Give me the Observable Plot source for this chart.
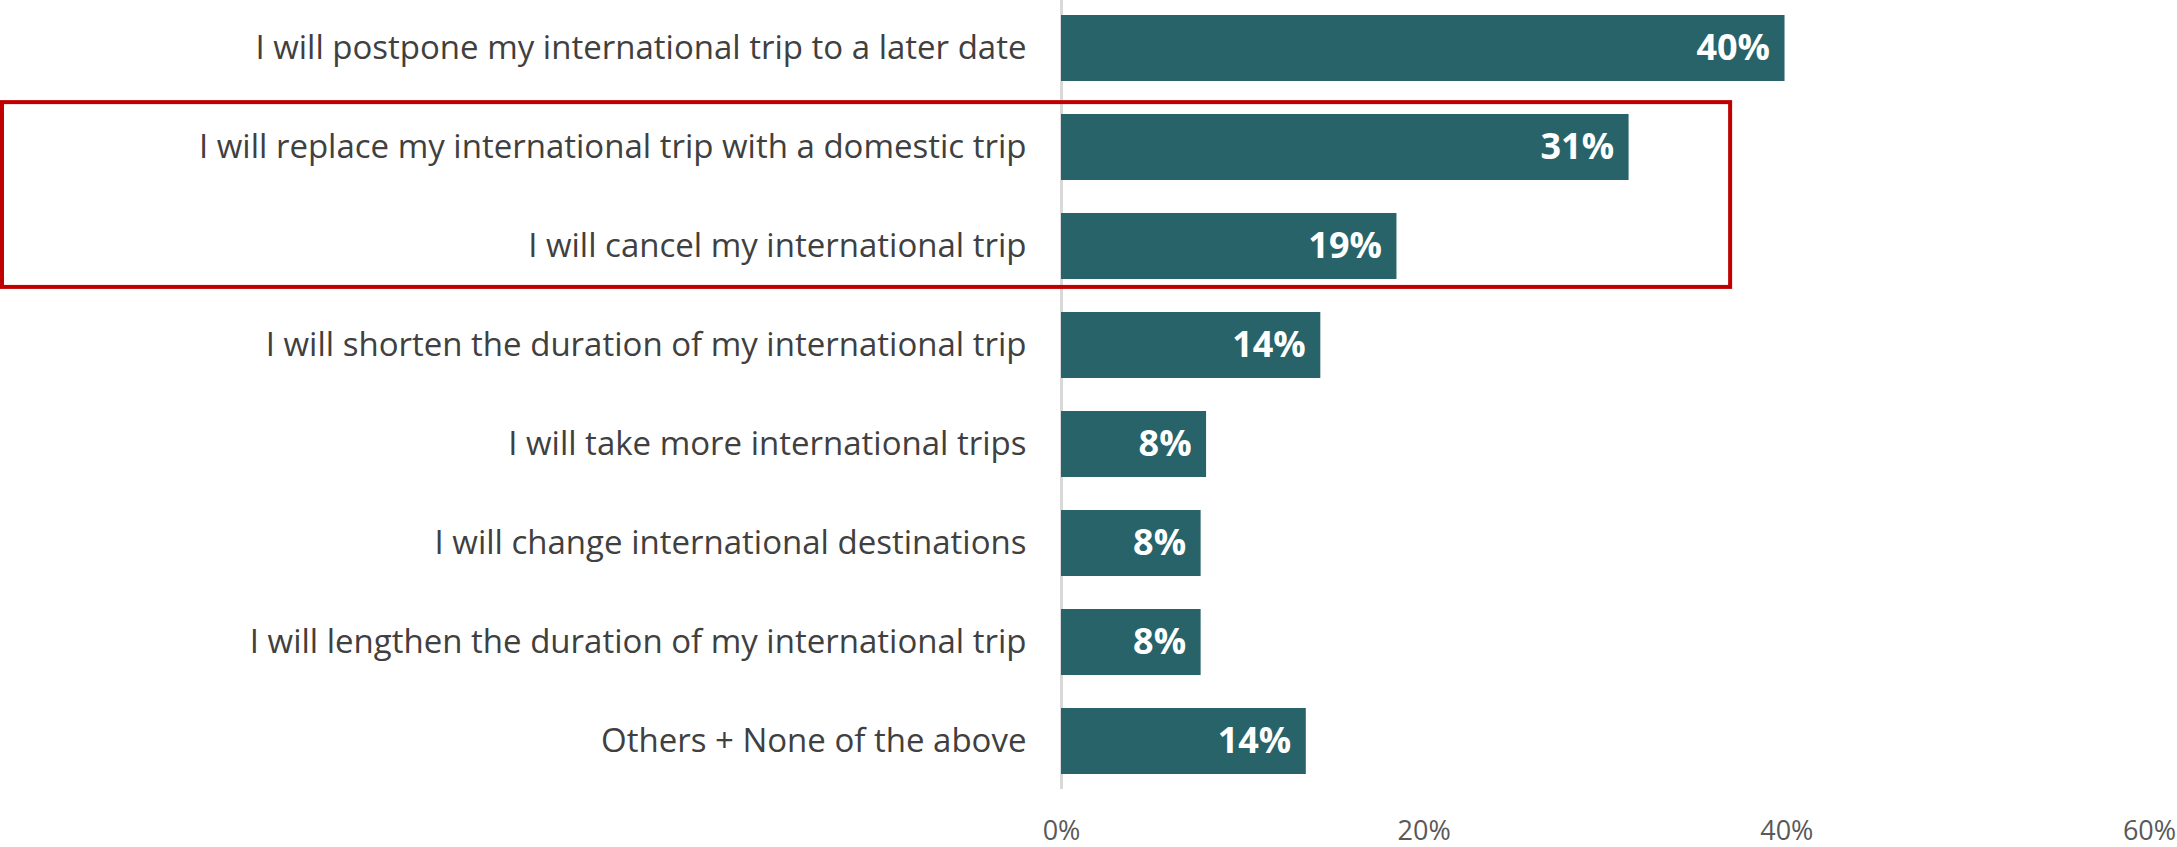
<!DOCTYPE html>
<html>
<head>
<meta charset="utf-8">
<script src="https://cdn.jsdelivr.net/npm/d3@7"></script>
<script src="https://cdn.jsdelivr.net/npm/@observablehq/plot@0.6"></script>
<style>
  html, body { margin: 0; padding: 0; background: #fff; }
  #chart svg { display: block; }
  #chart g[aria-label="y-axis tick label"] text { fill: #404040; }
  #chart g[aria-label="x-axis tick label"] text { fill: #595959; }
</style>
</head>
<body>
<div id="chart"></div>
<script>
const categories = [
  "I will postpone my international trip to a later date",
  "I will replace my international trip with a domestic trip",
  "I will cancel my international trip",
  "I will shorten the duration of my international trip",
  "I will take more international trips",
  "I will change international destinations",
  "I will lengthen the duration of my international trip",
  "Others + None of the above"
];
const values = [39.9, 31.3, 18.5, 14.3, 8.0, 7.7, 7.7, 13.5];
const valueLabels = ["40%", "31%", "19%", "14%", "8%", "8%", "8%", "14%"];
const xTicks = [0, 20, 40, 60];
const highlighted = [
  "I will replace my international trip with a domestic trip",
  "I will cancel my international trip"
];
const highlightExtent = 36.9;

const data = categories.map((c, i) => ({category: c, value: values[i], label: valueLabels[i]}));

const chart = Plot.plot({
  width: 2177,
  height: 847,
  marginLeft: 1061,
  marginRight: 28,
  marginTop: 0,
  marginBottom: 58,
  style: {fontFamily: "'Open Sans', sans-serif", background: "#fff"},
  x: {domain: [0, 60], ticks: xTicks, tickFormat: d => d + "%"},
  y: {domain: categories, paddingInner: 0.33, paddingOuter: 0.14},
  marks: [
    Plot.ruleX([0], {stroke: "#d9d9d9", strokeWidth: 3}),
    Plot.barX(data, {x: "value", y: "category", fill: "#276369"}),
    Plot.text(data, {x: "value", y: "category", text: "label", textAnchor: "end", dx: -15,
      fill: "white", fontWeight: "bold", fontSize: 36}),
    Plot.axisY({tickSize: 0, tickPadding: 35, fontSize: 33, label: null}),
    Plot.axisX({tickSize: 0, tickPadding: 31, fontSize: 27, label: null, ticks: xTicks, tickFormat: d => d + "%"})
  ]
});

// highlight box around the highlighted categories, placed from the chart's own scales
{
  const yScale = chart.scale("y");
  const xScale = chart.scale("x");
  const bw = yScale.bandwidth;
  const stp = yScale.step || bw / (1 - 0.33);
  const starts = highlighted.map(c => yScale.apply(c));
  const boxTop = Math.min(...starts) - stp * 0.12;
  const boxBottom = Math.max(...starts) + bw + stp * 0.08;
  const boxRight = xScale.apply(highlightExtent);
  d3.select(chart).append("rect")
    .attr("x", 2)
    .attr("y", boxTop)
    .attr("width", boxRight - 2)
    .attr("height", boxBottom - boxTop)
    .attr("fill", "none")
    .attr("stroke", "#C00000")
    .attr("stroke-width", 4);
}

document.getElementById("chart").append(chart);
</script>
</body>
</html>
